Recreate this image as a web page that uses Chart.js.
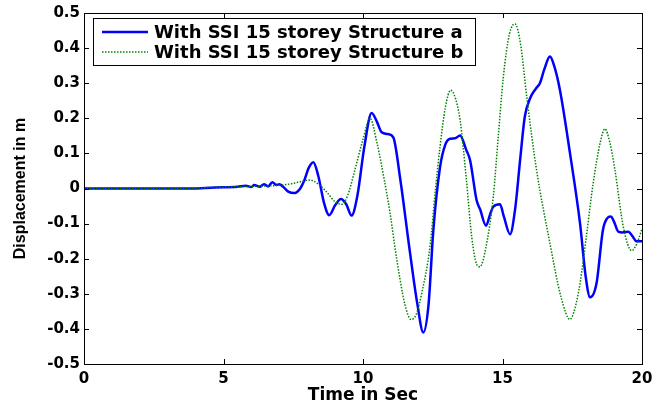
<!DOCTYPE html>
<html>
<head>
<meta charset="utf-8">
<script src="https://cdn.jsdelivr.net/npm/chart.js@4"></script>
<style>
  body { margin: 0; background: #fff; }
</style>
</head>
<body>
<canvas id="grafica" width="667" height="407"></canvas>
<script>
// Desplazamiento vs tiempo, dos estructuras con SSI
const timeA = [0, 3.8, 4.7, 5.5, 5.8, 6.0, 6.1, 6.3, 6.45, 6.6, 6.75, 6.9, 7.0, 7.15, 7.32, 7.55, 7.75, 7.9, 8.05, 8.22, 8.4, 8.6, 8.79, 9.0, 9.21, 9.4, 9.59, 9.8, 10.05, 10.31, 10.5, 10.67, 10.9, 11.09, 11.33, 11.68, 11.95, 12.16, 12.35, 12.52, 12.76, 12.95, 13.12, 13.3, 13.48, 13.7, 13.84, 14.07, 14.2, 14.41, 14.55, 14.67, 14.91, 15.05, 15.27, 15.45, 15.63, 15.8, 15.99, 16.2, 16.34, 16.5, 16.7, 16.85, 17.06, 17.42, 17.78, 17.98, 18.14, 18.37, 18.6, 18.75, 18.88, 19.0, 19.15, 19.3, 19.51, 19.65, 19.8, 20];
const dispA = [0, 0, 0.003, 0.005, 0.008, 0.004, 0.01, 0.005, 0.012, 0.006, 0.018, 0.01, 0.012, 0.004, -0.009, -0.013, 0.0, 0.024, 0.058, 0.075, 0.035, -0.04, -0.076, -0.048, -0.03, -0.045, -0.077, -0.02, 0.12, 0.215, 0.19, 0.16, 0.155, 0.145, 0.03, -0.18, -0.33, -0.41, -0.33, -0.12, 0.06, 0.125, 0.142, 0.143, 0.151, 0.11, 0.08, -0.033, -0.06, -0.106, -0.075, -0.052, -0.045, -0.08, -0.13, -0.06, 0.08, 0.205, 0.257, 0.285, 0.3, 0.34, 0.376, 0.35, 0.28, 0.1, -0.1, -0.25, -0.31, -0.27, -0.118, -0.085, -0.08, -0.095, -0.123, -0.125, -0.123, -0.135, -0.15, -0.15];

const timeB = [0, 3.7, 4.5, 5.5, 6.5, 7.0, 7.4, 7.8, 8.1, 8.4, 8.7, 9.0, 9.25, 9.45, 9.7, 10.0, 10.25, 10.5, 10.75, 10.97, 11.15, 11.33, 11.5, 11.72, 11.9, 12.1, 12.4, 12.6, 12.76, 12.95, 13.14, 13.3, 13.48, 13.7, 13.9, 14.07, 14.19, 14.4, 14.67, 14.85, 15.03, 15.25, 15.45, 15.65, 15.87, 16.22, 16.7, 17.1, 17.42, 17.6, 17.78, 18.0, 18.25, 18.5, 18.67, 18.85, 19.03, 19.33, 19.63, 19.8, 20];
const dispB = [0, 0, 0.003, 0.005, 0.007, 0.009, 0.013, 0.02, 0.024, 0.012, -0.01, -0.038, -0.045, -0.02, 0.05, 0.14, 0.2, 0.13, 0.03, -0.07, -0.17, -0.26, -0.33, -0.373, -0.36, -0.3, -0.166, 0.0, 0.119, 0.23, 0.28, 0.26, 0.195, 0.03, -0.14, -0.215, -0.223, -0.17, -0.023, 0.15, 0.318, 0.44, 0.469, 0.41, 0.26, 0.053, -0.156, -0.31, -0.373, -0.34, -0.27, -0.14, 0.015, 0.13, 0.17, 0.13, 0.053, -0.109, -0.177, -0.16, -0.115];

const labels = ['With SSI 15 storey Structure a', 'With SSI 15 storey Structure b'];
const xTicks = [0, 5, 10, 15, 20];

const toPoints = (xs, ys) => xs.map((x, i) => ({ x: x, y: ys[i] }));

const tickFont = { family: 'DejaVu Sans', weight: 'bold', size: 15 };

// Caja de ejes con marcas hacia dentro (estilo MATLAB)
const boxPlugin = {
    id: 'box',
    afterDraw(chart) {
        const { ctx, chartArea: a, scales } = chart;
        ctx.save();
        ctx.strokeStyle = '#000';
        ctx.lineWidth = 1;
        ctx.strokeRect(a.left + 0.5, a.top + 0.5, a.right - a.left, a.bottom - a.top);
        ctx.beginPath();
        scales.x.ticks.forEach(t => {
            const px = Math.round(scales.x.getPixelForValue(t.value)) + 0.5;
            ctx.moveTo(px, a.bottom); ctx.lineTo(px, a.bottom - 5);
            ctx.moveTo(px, a.top); ctx.lineTo(px, a.top + 5);
        });
        scales.y.ticks.forEach(t => {
            const py = Math.round(scales.y.getPixelForValue(t.value)) + 0.5;
            ctx.moveTo(a.left, py); ctx.lineTo(a.left + 5, py);
            ctx.moveTo(a.right, py); ctx.lineTo(a.right - 5, py);
        });
        ctx.stroke();
        ctx.restore();
    }
};

// Leyenda dentro del area
const legendPlugin = {
    id: 'boxLegend',
    afterDraw(chart) {
        const ctx = chart.ctx;
        const x0 = 93, y0 = 18, w = 382, h = 47;
        ctx.save();
        ctx.fillStyle = '#fff';
        ctx.fillRect(x0, y0, w, h);
        ctx.strokeStyle = '#000';
        ctx.lineWidth = 1;
        ctx.strokeRect(x0 + 0.5, y0 + 0.5, w, h);
        chart.data.datasets.forEach((ds, i) => {
            const y = 32 + i * 20;
            ctx.beginPath();
            ctx.strokeStyle = ds.borderColor;
            ctx.lineWidth = ds.borderWidth;
            ctx.setLineDash(ds.borderDash || []);
            ctx.moveTo(102, y); ctx.lineTo(148, y);
            ctx.stroke();
            ctx.setLineDash([]);
            ctx.fillStyle = '#000';
            ctx.font = 'bold 18px "DejaVu Sans"';
            ctx.textBaseline = 'middle';
            ctx.fillText(ds.label, 154, y + 1);
        });
        ctx.restore();
    }
};

const data = {
    datasets: [{
        label: labels[0],
        data: toPoints(timeA, dispA),
        borderColor: 'rgb(0,0,255)',
        borderWidth: 2.5,
        order: 2
    }, {
        label: labels[1],
        data: toPoints(timeB, dispB),
        borderColor: 'rgb(0,128,0)',
        borderWidth: 1.5,
        borderDash: [1.5, 1.5],
        order: 1
    }]
};

const config = {
    type: 'line',
    data: data,
    options: {
        responsive: false,
        animation: false,
        layout: { padding: { top: 13, right: 25, left: 0, bottom: 0 } },
        elements: {
            point: { radius: 0 },
            line: { cubicInterpolationMode: 'monotone', fill: false }
        },
        plugins: { legend: { display: false }, tooltip: { enabled: false } },
        scales: {
            x: {
                type: 'linear',
                min: 0, max: 20,
                afterBuildTicks: s => { s.ticks = xTicks.map(v => ({ value: v })); },
                ticks: { font: tickFont, color: '#000', padding: 6, maxRotation: 0 },
                grid: { display: false, drawTicks: false },
                border: { display: false },
                title: {
                    display: true, text: 'Time in Sec', color: '#000',
                    font: { family: 'DejaVu Sans', weight: 'bold', size: 17 },
                    padding: { top: 0, bottom: 1 }
                },
                afterFit: s => { s.height = 43; }
            },
            y: {
                min: -0.5, max: 0.5,
                ticks: {
                    stepSize: 0.1, autoSkip: false, font: tickFont, color: '#000', padding: 4,
                    callback: v => Number(v.toFixed(1)).toString()
                },
                grid: { display: false, drawTicks: false },
                border: { display: false },
                title: {
                    display: true, text: 'Displacement in m', color: '#000',
                    font: { family: 'Liberation Sans', weight: 'bold', size: 16 },
                    padding: { top: 11, bottom: 0 }
                },
                afterFit: s => { s.width = 84; }
            }
        }
    },
    plugins: [boxPlugin, legendPlugin]
};

new Chart(document.querySelector('#grafica'), config);
</script>
</body>
</html>
